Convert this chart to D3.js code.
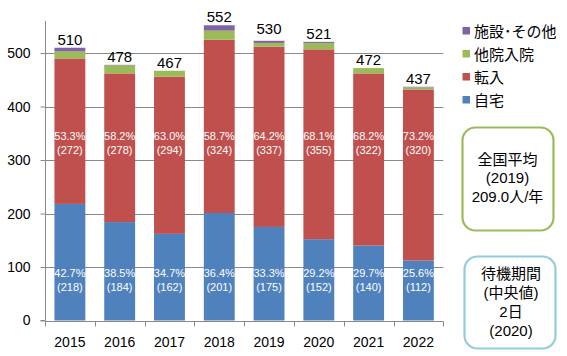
<!DOCTYPE html>
<html>
<head>
<meta charset="utf-8">
<script src="https://cdn.jsdelivr.net/npm/d3@7"></script>
<style>
html,body{margin:0;padding:0;background:#fff;}
svg{display:block;}
text{font-family:"Liberation Sans",Arial,"Noto Sans CJK JP",sans-serif;}
.cjk{font-family:"Liberation Sans",Arial,"Noto Sans CJK JP",sans-serif;}
</style>
</head>
<body>
<svg id="chart" width="567" height="356"></svg>
<script>
const years = ['2015','2016','2017','2018','2019','2020','2021','2022'];
const home = [218,184,162,201,175,152,140,112];
const transfer = [272,278,294,324,337,355,322,320];
const otherHosp = [13,15,11,17,7,12,10,4];
const facility = [7,1,0,10,4,2,0,1];
const totals = [510,478,467,552,530,521,472,437];
const homePct = ['42.7%','38.5%','34.7%','36.4%','33.3%','29.2%','29.7%','25.6%'];
const transferPct = ['53.3%','58.2%','63.0%','58.7%','64.2%','68.1%','68.2%','73.2%'];
const seriesNames = ['自宅','転入','他院入院','施設･その他'];
const seriesColors = ['#4F81BD','#C0504D','#9BBB59','#8064A2'];
const yTicks = [0,100,200,300,400,500];
const yMax = 560;
const box1Lines = ['全国平均','(2019)','209.0人/年'];
const box2Lines = ['待機期間','(中央値)','2日','(2020)'];
const homeLabelAt = 75, transferLabelAt = 332;

(function () {
const svg = d3.select('#chart');
const pLeft = 45, pRight = 443.3, pTop = 21, pBottom = 320.5;

const x = d3.scaleBand().domain(years).range([pLeft, pRight]).paddingInner(0.38).paddingOuter(0.19);
const y = d3.scaleLinear().domain([0, yMax]).range([pBottom, pTop]);
const grid = '#898989';

// gridlines
svg.append('g').selectAll('line').data(yTicks.filter(d => d > 0)).join('line')
  .attr('x1', pLeft).attr('x2', pRight)
  .attr('y1', d => Math.round(y(d)) + 0.5).attr('y2', d => Math.round(y(d)) + 0.5)
  .attr('stroke', grid).attr('stroke-width', 1);

// stacked data
const rows = years.map((yr, i) => ({year: yr, s0: home[i], s1: transfer[i], s2: otherHosp[i], s3: facility[i]}));
const stack = d3.stack().keys(['s0','s1','s2','s3'])(rows);

svg.append('g').selectAll('g').data(stack).join('g')
  .attr('fill', (d, i) => seriesColors[i])
  .selectAll('rect').data(d => d).join('rect')
  .attr('x', d => x(d.data.year))
  .attr('width', x.bandwidth())
  .attr('y', d => y(d[1]))
  .attr('height', d => Math.max(0, y(d[0]) - y(d[1])));

// axes
const yAxis = d3.axisLeft(y).tickValues(yTicks).tickSize(5).tickPadding(10).tickFormat(d3.format('d'));
const gy = svg.append('g').attr('transform', `translate(${pLeft + 0.5},0)`).call(yAxis);
gy.select('.domain').attr('stroke', grid).attr('d', `M-5,${y(0)}H0V${y(yMax)}`);
gy.selectAll('.tick line').attr('stroke', grid);
gy.selectAll('.tick text').attr('font-size', 14).attr('fill', '#000')
  .attr('font-family', '"Liberation Sans",Arial,sans-serif');

const gx = svg.append('g').attr('transform', `translate(0,${Math.round(pBottom) + 0.5})`);
gx.append('line').attr('x1', pLeft).attr('x2', pRight).attr('stroke', grid);
const step = x.step();
gx.selectAll('line.tk').data(d3.range(years.length + 1)).join('line').attr('class', 'tk')
  .attr('x1', i => Math.round(pLeft + i * step) + 0.5).attr('x2', i => Math.round(pLeft + i * step) + 0.5)
  .attr('y1', 0).attr('y2', 5).attr('stroke', grid);
gx.selectAll('text').data(years).join('text')
  .attr('x', d => x(d) + x.bandwidth() / 2).attr('y', 25)
  .attr('text-anchor', 'middle').attr('font-size', 14).attr('fill', '#000').text(d => d);

// total labels
svg.append('g').selectAll('text').data(years).join('text')
  .attr('x', d => x(d) + x.bandwidth() / 2)
  .attr('y', (d, i) => y(totals[i]) - 3)
  .attr('text-anchor', 'middle').attr('font-size', 15).attr('fill', '#000')
  .text((d, i) => totals[i]);

// inside labels
function inside(pcts, vals, at) {
  const g = svg.append('g').attr('fill', '#fff').attr('font-size', 11).attr('text-anchor', 'middle');
  years.forEach((yr, i) => {
    const cx = x(yr) + x.bandwidth() / 2;
    g.append('text').attr('x', cx).attr('y', y(at) - 3).text(pcts[i]);
    g.append('text').attr('x', cx).attr('y', y(at) + 11).text('(' + vals[i] + ')');
  });
}
inside(homePct, home, homeLabelAt);
inside(transferPct, transfer, transferLabelAt);

// legend
const leg = svg.append('g');
const legOrder = [3,2,1,0];
legOrder.forEach((si, k) => {
  const cy = 31 + k * 23;
  leg.append('rect').attr('x', 462.5).attr('y', cy - 4).attr('width', 7.5).attr('height', 7.5).attr('fill', seriesColors[si]);
  leg.append('text').attr('class', 'cjk').attr('x', 474).attr('y', cy + 5.5).attr('font-size', 15).attr('fill', '#000').text(seriesNames[si]);
});

// boxes
svg.append('rect').attr('x', 462.5).attr('y', 127.5).attr('width', 91).attr('height', 103)
  .attr('rx', 13).attr('ry', 13).attr('fill', '#fff').attr('stroke', '#9BBB59').attr('stroke-width', 2.2);
box1Lines.forEach((t, i) => {
  svg.append('text').attr('class', 'cjk').attr('x', 507.5).attr('y', 164.5 + i * 18.7)
    .attr('text-anchor', 'middle').attr('font-size', 15).attr('fill', '#000').text(t);
});
svg.append('rect').attr('x', 464.5).attr('y', 256.5).attr('width', 91).attr('height', 92)
  .attr('rx', 13).attr('ry', 13).attr('fill', '#fff').attr('stroke', '#92CDDC').attr('stroke-width', 2.2);
box2Lines.forEach((t, i) => {
  svg.append('text').attr('class', 'cjk').attr('x', 511).attr('y', 278.5 + i * 19)
    .attr('text-anchor', 'middle').attr('font-size', 15).attr('fill', '#000').text(t);
});
})();
</script>
</body>
</html>
